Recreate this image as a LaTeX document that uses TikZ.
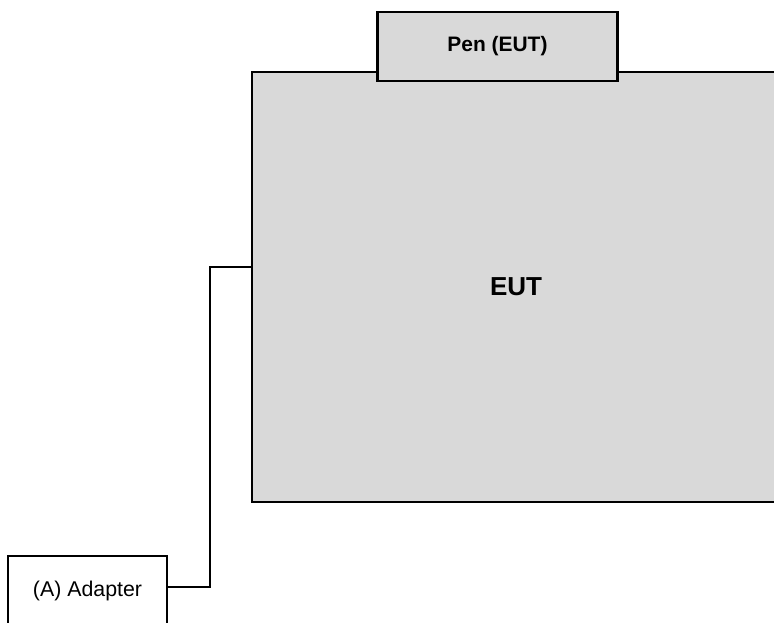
\documentclass[tikz,border=0pt]{standalone}
\usepackage{fontspec}
\setmainfont{Liberation Sans}
\usepackage{tikz}
\usetikzlibrary{arrows.meta,calc,positioning,shapes}
\definecolor{boxgray}{HTML}{D9D9D9}

\begin{document}
\begin{tikzpicture}[
		x=0.75pt, y=-0.75pt,
		block/.style={rectangle, draw, fill=boxgray, line width=1.9pt, inner sep=0pt},
		plain/.style={rectangle, draw, fill=white, line width=1.6pt, inner sep=0pt},
		wire/.style={draw, line width=1.2pt}
		]
		
		% Le cadre
		\useasboundingbox (0,0) rectangle (774,623);
		\clip (0,0) rectangle (774,623);
		
		% Les blocs
		\node[block, minimum width=528*0.75pt, minimum height=430*0.75pt,
		font=\bfseries\fontsize{19.5}{22}\selectfont] (EUT) at (516, 287) {EUT};
		\node[block, minimum width=239.5*0.75pt, minimum height=69*0.75pt,
		font=\bfseries\fontsize{15.7}{18}\selectfont] (Pen) at (497.5, 46.5) {Pen (EUT)};
		\node[plain, minimum width=159*0.75pt, minimum height=70*0.75pt,
		font=\fontsize{16}{18}\selectfont] (Adapter) at (87.5, 591) {(A) Adapter};
		
		% Le cable
		\coordinate (kink) at (210, 267);
		\draw[wire] ($(Adapter.east)+(0,-4)$) -| (kink) -- (kink -| EUT.west);
	\end{tikzpicture}
\end{document}
